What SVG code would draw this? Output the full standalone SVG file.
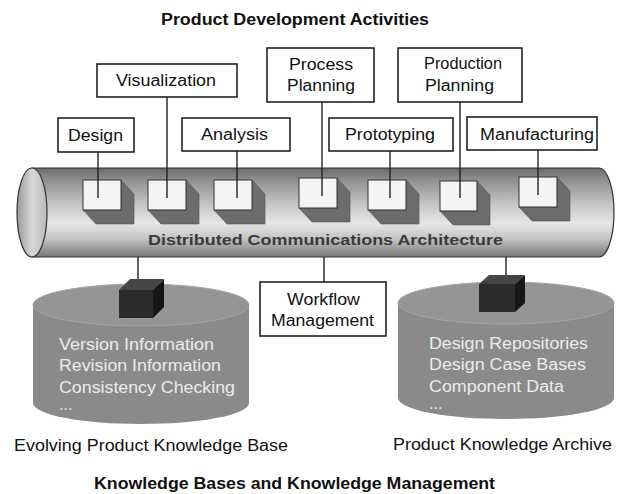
<svg xmlns="http://www.w3.org/2000/svg" width="618" height="494" viewBox="0 0 618 494">
<defs>
<style>
text{font-family:"Liberation Sans",Arial,Helvetica,sans-serif;fill:#111}
.t{font-size:16px;text-anchor:start}
.b{font-weight:bold}
.box{fill:#fff;stroke:#222;stroke-width:1.6}
.ln{stroke:#222;stroke-width:1.4;fill:none}
.sq{fill:#f4f4f4;stroke:#333;stroke-width:1}
.sh{fill:#6c6c6c;stroke:#555;stroke-width:0.6}
.db{font-size:16px;fill:#ececec}
.cf{fill:#2b2b2b}
.ct{fill:#454545}
.cs{fill:#161616}
</style>
<linearGradient id="pipe" x1="0" y1="0" x2="0" y2="1">
<stop offset="0" stop-color="#6a6a6a"/>
<stop offset="0.12" stop-color="#8c8c8c"/>
<stop offset="0.4" stop-color="#c4c4c4"/>
<stop offset="0.62" stop-color="#e6e6e6"/>
<stop offset="0.8" stop-color="#c2c2c2"/>
<stop offset="1" stop-color="#787878"/>
</linearGradient>
<linearGradient id="endf" x1="0" y1="0" x2="1" y2="0">
<stop offset="0" stop-color="#9a9a9a"/>
<stop offset="0.5" stop-color="#d6d6d6"/>
<stop offset="1" stop-color="#bcbcbc"/>
</linearGradient>
</defs>
<rect width="618" height="494" fill="#fff"/>

<text class="t b" x="161" y="25" textLength="268" lengthAdjust="spacingAndGlyphs">Product Development Activities</text>

<g id="pipe-arch">
<path d="M32,168 L599,168 A15,44.5 0 0 1 599,257 L32,257 Z" fill="url(#pipe)" stroke="#333" stroke-width="1.2"/>
<ellipse cx="32" cy="212.5" rx="15" ry="44.5" fill="url(#endf)" stroke="#333" stroke-width="1.2"/>
<g id="ports">
<path class="sh" d="M121,180 L134,194 L134,224 L96,224 L83,210 L121,210 Z"/>
<rect class="sq" x="83" y="180" width="38" height="30"/>
<path class="sh" d="M186,180 L199,194 L199,224 L161,224 L148,210 L186,210 Z"/>
<rect class="sq" x="148" y="180" width="38" height="30"/>
<path class="sh" d="M252,180 L265,194 L265,224 L227,224 L214,210 L252,210 Z"/>
<rect class="sq" x="214" y="180" width="38" height="30"/>
<path class="sh" d="M337,178 L350,192 L350,222 L312,222 L299,208 L337,208 Z"/>
<rect class="sq" x="299" y="178" width="38" height="30"/>
<path class="sh" d="M406,180 L419,194 L419,224 L381,224 L368,210 L406,210 Z"/>
<rect class="sq" x="368" y="180" width="38" height="30"/>
<path class="sh" d="M477,181 L490,195 L490,225 L453,225 L440,211 L477,211 Z"/>
<rect class="sq" x="440" y="181" width="37" height="30"/>
<path class="sh" d="M557,177 L570,191 L570,221 L532,221 L519,207 L557,207 Z"/>
<rect class="sq" x="519" y="177" width="38" height="30"/>
</g>
<text class="b" x="148" y="245" font-size="15" fill="#3a3a3a" style="fill:#3a3a3a" textLength="355" lengthAdjust="spacingAndGlyphs">Distributed Communications Architecture</text>
</g>

<g id="connectors">
<line class="ln" x1="98" y1="152" x2="98" y2="198"/>
<line class="ln" x1="167" y1="97" x2="167" y2="198"/>
<line class="ln" x1="237" y1="151" x2="237" y2="198"/>
<line class="ln" x1="322" y1="102" x2="322" y2="196"/>
<line class="ln" x1="390" y1="151" x2="390" y2="198"/>
<line class="ln" x1="460" y1="102" x2="460" y2="198"/>
<line class="ln" x1="538" y1="150" x2="538" y2="195"/>
<line class="ln" x1="138" y1="257" x2="138" y2="281"/>
<line class="ln" x1="324" y1="257" x2="324" y2="282"/>
<line class="ln" x1="506" y1="257" x2="506" y2="276"/>
</g>

<g id="design"><rect class="box" x="58" y="118" width="76" height="34"/><text class="t" x="68" y="141" textLength="55" lengthAdjust="spacingAndGlyphs">Design</text></g>
<g id="visualization"><rect class="box" x="97" y="64" width="140" height="33"/><text class="t" x="116" y="86" textLength="100" lengthAdjust="spacingAndGlyphs">Visualization</text></g>
<g id="analysis"><rect class="box" x="182" y="118" width="108" height="33"/><text class="t" x="201" y="140" textLength="67" lengthAdjust="spacingAndGlyphs">Analysis</text></g>
<g id="process-planning"><rect class="box" x="267" y="48" width="107" height="54"/><text class="t" x="289" y="70" textLength="64" lengthAdjust="spacingAndGlyphs">Process</text><text class="t" x="287" y="91" textLength="68" lengthAdjust="spacingAndGlyphs">Planning</text></g>
<g id="prototyping"><rect class="box" x="329" y="118" width="124" height="33"/><text class="t" x="345" y="140" textLength="90" lengthAdjust="spacingAndGlyphs">Prototyping</text></g>
<g id="production-planning"><rect class="box" x="398" y="48" width="124" height="54"/><text class="t" x="424" y="69" textLength="78" lengthAdjust="spacingAndGlyphs">Production</text><text class="t" x="425" y="91" textLength="69" lengthAdjust="spacingAndGlyphs">Planning</text></g>
<g id="manufacturing"><rect class="box" x="467" y="117" width="130" height="33"/><text class="t" x="480" y="140" textLength="114" lengthAdjust="spacingAndGlyphs">Manufacturing</text></g>

<g id="workflow"><rect class="box" x="260" y="282" width="126" height="54"/><text class="t" x="287" y="305" textLength="73" lengthAdjust="spacingAndGlyphs">Workflow</text><text class="t" x="271" y="326" textLength="103" lengthAdjust="spacingAndGlyphs">Management</text></g>

<g id="evolving-kb">
<path d="M33,305 L33,403 A108,21 0 0 0 249,403 L249,305 Z" fill="#8a8a8a"/>
<ellipse cx="141" cy="305" rx="108" ry="21" fill="#959595" stroke="#a4a4a4" stroke-width="1"/>
<path class="ct" d="M119,290 L130,279 L164,279 L153,290 Z"/>
<path class="cs" d="M153,290 L164,279 L164,307 L153,318 Z"/>
<rect class="cf" x="119" y="290" width="34" height="28"/>
<text class="db" x="59" y="350" textLength="155" lengthAdjust="spacingAndGlyphs">Version Information</text>
<text class="db" x="59" y="371" textLength="162" lengthAdjust="spacingAndGlyphs">Revision Information</text>
<text class="db" x="59" y="393" textLength="176" lengthAdjust="spacingAndGlyphs">Consistency Checking</text>
<text class="db" x="59" y="410">...</text>
<text class="t" x="14" y="451" textLength="274" lengthAdjust="spacingAndGlyphs">Evolving Product Knowledge Base</text>
</g>

<g id="product-archive">
<path d="M398,303 L398,398 A108,21 0 0 0 614,398 L614,303 Z" fill="#8a8a8a"/>
<ellipse cx="506" cy="303" rx="108" ry="21" fill="#959595" stroke="#a4a4a4" stroke-width="1"/>
<path class="ct" d="M479,284 L489,275 L525,275 L515,284 Z"/>
<path class="cs" d="M515,284 L525,275 L525,303 L515,312 Z"/>
<rect class="cf" x="479" y="284" width="36" height="28"/>
<text class="db" x="429" y="349" textLength="159" lengthAdjust="spacingAndGlyphs">Design Repositories</text>
<text class="db" x="429" y="370" textLength="157" lengthAdjust="spacingAndGlyphs">Design Case Bases</text>
<text class="db" x="429" y="392" textLength="135" lengthAdjust="spacingAndGlyphs">Component Data</text>
<text class="db" x="429" y="409">...</text>
<text class="t" x="393" y="450" textLength="219" lengthAdjust="spacingAndGlyphs">Product Knowledge Archive</text>
</g>

<text class="t b" x="94" y="489" textLength="401" lengthAdjust="spacingAndGlyphs">Knowledge Bases and Knowledge Management</text>
</svg>
